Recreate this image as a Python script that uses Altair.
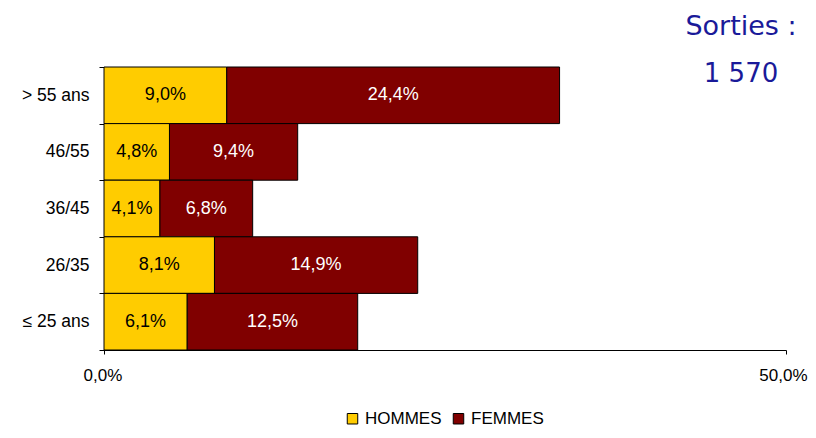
import altair as alt
import pandas as pd

ages = ["> 55 ans", "46/55", "36/45", "26/35", "≤ 25 ans"]
hommes = [9.0, 4.8, 4.1, 8.1, 6.1]
femmes = [24.4, 9.4, 6.8, 14.9, 12.5]
series = ["HOMMES", "FEMMES"]
colors = ["#FFCC00", "#800000"]
text_colors = ["#000000", "#FFFFFF"]
x_ticks = [0, 50]
titre = ["Sorties :", "1 570"]

rows = []
for i, a in enumerate(ages):
    for k, (s, vals) in enumerate(zip(series, [hommes, femmes])):
        v = vals[i]
        rows.append({"age": a, "sexe": s, "ordre": k, "valeur": v,
                     "label": f"{v:.1f}".replace(".", ",") + "%"})
df = pd.DataFrame(rows)

FONT = "Liberation Sans"
TITLE_COLOR = "#1A1A99"

base = alt.Chart(df).transform_stack(
    stack="valeur", groupby=["age"], as_=["x0", "x1"],
    sort=[alt.SortField("ordre", order="ascending")]
).transform_calculate(mid="(datum.x0 + datum.x1) / 2")

y_enc = alt.Y("age:N", sort=ages, title=None,
              scale=alt.Scale(paddingInner=0, paddingOuter=0),
              axis=alt.Axis(tickBand="extent", tickSize=5, labelPadding=10,
                            labelFontSize=17.5, labelFont=FONT, labelColor="#000",
                            domainColor="#000", tickColor="#000"))

bars = base.mark_bar(stroke="#000", strokeWidth=1).encode(
    x=alt.X("x0:Q", title=None,
            scale=alt.Scale(domain=[0, 50], nice=False),
            axis=alt.Axis(values=x_ticks, grid=False, tickSize=4, labelPadding=13,
                          labelFlush=True, labelFlushOffset=21,
                          labelFontSize=17, labelFont=FONT, labelColor="#000",
                          domainColor="#000", tickColor="#000",
                          labelExpr="replace(format(datum.value, '.1f'), '.', ',') + '%'")),
    x2="x1:Q",
    y=y_enc,
    color=alt.Color("sexe:N", sort=series,
                    scale=alt.Scale(domain=series, range=colors),
                    legend=alt.Legend(title=None, orient="none", direction="horizontal",
                                      legendX=240, legendY=343, symbolType="square",
                                      symbolSize=110, symbolStrokeColor="#000",
                                      symbolStrokeWidth=1, labelFontSize=17,
                                      labelFont=FONT, labelColor="#000",
                                      labelOffset=4, columnPadding=8,
                                      symbolOpacity=1)),
)

texts = base.mark_text(fontSize=18, font=FONT, align="center", baseline="middle").encode(
    x=alt.X("mid:Q"),
    y=alt.Y("age:N", sort=ages),
    text="label:N",
    color=alt.Color("sexe:N", scale=alt.Scale(domain=series, range=text_colors), legend=None),
)

ann_df = pd.DataFrame({"t": titre, "k": [0, 1]})
ann1 = alt.Chart(ann_df).transform_filter("datum.k == 0").mark_text(
    fontSize=27, font="DejaVu Sans", color=TITLE_COLOR, align="center", baseline="alphabetic"
).encode(x=alt.value(637), y=alt.value(-32), text="t:N")
ann2 = alt.Chart(ann_df).transform_filter("datum.k == 1").mark_text(
    fontSize=26, font="DejaVu Sans", color=TITLE_COLOR, align="center", baseline="alphabetic"
).encode(x=alt.value(637), y=alt.value(15), text="t:N")

chart = alt.layer(bars, texts, ann1, ann2).resolve_scale(color="independent").properties(
    width=682, height=283,
    autosize=alt.AutoSizeParams(type="none"),
    padding={"left": 96, "top": 59, "right": 22, "bottom": 80},
).configure_view(stroke=None)

chart.save("out.html", embed_options={"renderer": "svg", "actions": False})
